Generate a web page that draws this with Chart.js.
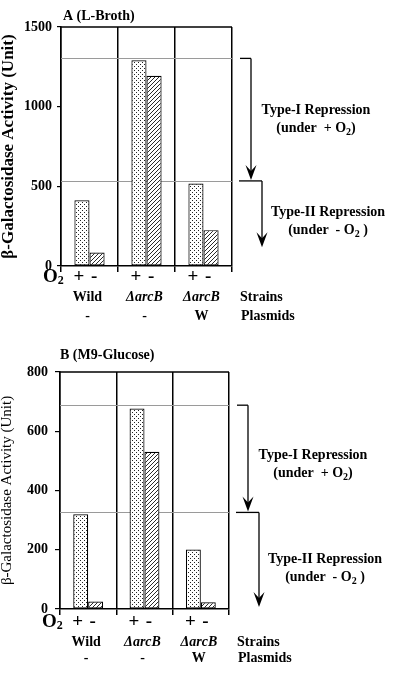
<!DOCTYPE html>
<html><head><meta charset="utf-8">
<script src="https://cdn.jsdelivr.net/npm/chart.js@4.4.1/dist/chart.umd.min.js"></script>
<style>
html,body{margin:0;padding:0;background:#fff;}
#wrap{position:relative;width:400px;height:680px;overflow:hidden;}
canvas{position:absolute;left:0;}
</style></head><body>
<div id="wrap">
<canvas id="cA" width="400" height="340" style="top:0"></canvas>
<canvas id="cB" width="400" height="340" style="top:340px"></canvas>
</div>
<script>
// ---- data ----
const strains = ['Wild', 'ΔarcB', 'ΔarcB'];
const plasmids = ['-', '-', 'W'];
const oxygenMarks = ['+', '-'];
const plusO2_A = [413, 1291, 518];
const minusO2_A = [85, 1194, 225];
const refLevels_A = [1303, 534];
const arrowEnd_A = 117;
const yTicks_A = [0, 500, 1000, 1500];
const plusO2_B = [320, 677, 201];
const minusO2_B = [25, 531, 23];
const refLevels_B = [688, 326];
const arrowEnd_B = 7;
const yTicks_B = [0, 200, 400, 600, 800];

const SERIF = '"Liberation Serif", "Times New Roman", serif';

function dotPattern() {
  const c = document.createElement('canvas'); c.width = 4; c.height = 4;
  const x = c.getContext('2d');
  x.fillStyle = '#fff'; x.fillRect(0, 0, 4, 4);
  x.fillStyle = '#222'; x.fillRect(0, 0, 1, 1); x.fillRect(2, 2, 1, 1);
  return x.createPattern(c, 'repeat');
}
function hatchPattern() {
  const s = 4;
  const c = document.createElement('canvas'); c.width = s; c.height = s;
  const x = c.getContext('2d');
  x.fillStyle = '#fff'; x.fillRect(0, 0, s, s);
  x.strokeStyle = '#111'; x.lineWidth = 0.9;
  [-s, 0, s].forEach(k => { x.beginPath(); x.moveTo(k, s); x.lineTo(k + s, 0); x.stroke(); });
  return x.createPattern(c, 'repeat');
}

function rich(ctx, parts, x, y, align) {
  // parts: [text, size, dy, weight]
  let w = 0;
  parts.forEach(p => { ctx.font = (p[3] || 'bold') + ' ' + p[1] + 'px ' + SERIF; w += ctx.measureText(p[0]).width; });
  let cx = align === 'center' ? x - w / 2 : (align === 'right' ? x - w : x);
  ctx.textAlign = 'left'; ctx.textBaseline = 'middle';
  parts.forEach(p => { ctx.font = (p[3] || 'bold') + ' ' + p[1] + 'px ' + SERIF; ctx.fillText(p[0], cx, y + (p[2] || 0)); cx += ctx.measureText(p[0]).width; });
}

function arrowDown(ctx, x, yFrom, yTip) {
  ctx.beginPath(); ctx.moveTo(x, yFrom); ctx.lineTo(x, yTip - 8); ctx.stroke();
  ctx.beginPath();
  ctx.moveTo(x, yTip); ctx.lineTo(x - 5.5, yTip - 15); ctx.lineTo(x, yTip - 9); ctx.lineTo(x + 5.5, yTip - 15);
  ctx.closePath(); ctx.fill();
}

const panelPlugin = {
  id: 'panel',
  beforeDatasetsDraw(chart, args, o) {
    const { ctx, chartArea: a, scales: { y } } = chart;
    ctx.save(); ctx.strokeStyle = '#9a9a9a'; ctx.lineWidth = 1;
    o.refs.forEach(v => {
      const py = Math.round(y.getPixelForValue(v)) + 0.5;
      ctx.beginPath(); ctx.moveTo(a.left, py); ctx.lineTo(a.right, py); ctx.stroke();
    });
    ctx.restore();
  },
  afterDraw(chart, args, o) {
    const { ctx, chartArea: a, scales: { x, y } } = chart;
    ctx.save();
    ctx.strokeStyle = '#000'; ctx.fillStyle = '#000';
    // top frame
    ctx.lineWidth = 1.5;
    ctx.beginPath(); ctx.moveTo(a.left, a.top); ctx.lineTo(a.right, a.top); ctx.stroke();
    // panel title
    ctx.font = 'bold 14px ' + SERIF; ctx.textAlign = 'left'; ctx.textBaseline = 'middle';
    ctx.fillText(o.title, a.left + o.titleDx, a.top - o.titleDy);
    // brackets + arrows
    const y1 = y.getPixelForValue(o.refs[0]);
    const y2 = y.getPixelForValue(o.refs[1]);
    const y3 = y.getPixelForValue(o.arrowEnd);
    ctx.lineWidth = 1.3;
    ctx.beginPath(); ctx.moveTo(a.right + 8, y1); ctx.lineTo(a.right + 19, y1); ctx.stroke();
    arrowDown(ctx, a.right + 19, y1, y2 - 1);
    ctx.beginPath(); ctx.moveTo(a.right + 7, y2); ctx.lineTo(a.right + 30, y2); ctx.stroke();
    arrowDown(ctx, a.right + 30, y2, y3);
    // texts
    const m1 = (y1 + y2) / 2 + o.t1Shift;
    rich(ctx, [['Type-I Repression', 14]], a.right + 84, m1 - 9, 'center');
    rich(ctx, [['(under  + O', 14], ['2', 10, 4], [')', 14]], a.right + 84, m1 + 9, 'center');
    const m2 = (y2 + y3) / 2 + o.t2Shift;
    rich(ctx, [['Type-II Repression', 14]], a.right + 96, m2 - 9, 'center');
    rich(ctx, [['(under  - O', 14], ['2', 10, 4], [' )', 14]], a.right + 96, m2 + 9, 'center');
    // bottom labels
    const r1 = a.bottom + o.row1, r2 = a.bottom + o.row2, r3 = a.bottom + o.row3;
    rich(ctx, [['O', 19], ['2', 12, 4]], a.left - 18, r1, 'left');
    for (let j = 0; j < strains.length; j++) {
      [0, 1].forEach(d => {
        const bx = chart.getDatasetMeta(d).data[j].x;
        rich(ctx, [[oxygenMarks[d], 19, 0, 'bold']], bx - 3, r1, 'center');
      });
      const cx = x.getPixelForValue(j) - 2;
      const italic = strains[j].startsWith('Δ');
      rich(ctx, [[strains[j], 14, 0, italic ? 'italic bold' : 'bold']], cx, r2, 'center');
      rich(ctx, [[plasmids[j], 14]], cx, r3, 'center');
    }
    rich(ctx, [['Strains', 14]], a.right + 8, r2, 'left');
    rich(ctx, [['Plasmids', 14]], a.right + 9, r3, 'left');
    ctx.restore();
  }
};

function makeChart(id, c) {
  return new Chart(document.getElementById(id), {
    type: 'bar',
    data: {
      labels: strains,
      datasets: [
        { label: '+O2', data: c.plus, backgroundColor: dotPattern(), borderColor: '#000', borderWidth: 1.2, borderSkipped: false },
        { label: '-O2', data: c.minus, backgroundColor: hatchPattern(), borderColor: '#000', borderWidth: 1.2, borderSkipped: false }
      ]
    },
    options: {
      responsive: false, animation: false, devicePixelRatio: 1,
      layout: { padding: { top: c.top, right: 400 - c.right, left: 0, bottom: 0 } },
      datasets: { bar: { categoryPercentage: 0.53, barPercentage: 1 } },
      plugins: {
        legend: { display: false }, tooltip: { enabled: false },
        panel: c.panel
      },
      scales: {
        x: {
          grid: { color: '#000', lineWidth: 1.5, offset: true, drawTicks: true, tickLength: 6 },
          border: { color: '#000', width: 1.5 },
          ticks: { display: false },
          afterFit: s => { s.height = 340 - c.bottom; }
        },
        y: {
          min: 0, max: c.ticks[c.ticks.length - 1],
          afterBuildTicks: s => { s.ticks = c.ticks.map(v => ({ value: v })); },
          grid: { drawOnChartArea: false, color: '#000', tickLength: c.tickLen, lineWidth: 1.2 },
          border: { color: '#000', width: 1.5 },
          ticks: { color: '#000', padding: c.tickPad, font: { family: SERIF, size: 14, weight: 'bold' },
                   callback: v => String(v) },
          title: { display: true, text: 'β-Galactosidase Activity (Unit)', color: '#000',
                   padding: { top: 0, bottom: 0 }, font: c.titleFont },
          afterFit: s => { s.width = c.left; }
        }
      }
    },
    plugins: [panelPlugin]
  });
}

makeChart('cA', {
  plus: plusO2_A, minus: minusO2_A, ticks: yTicks_A,
  top: 27, bottom: 266, left: 61, right: 232, tickLen: 4, tickPad: 5,
  titleFont: { family: SERIF, size: 17, weight: 'bold', lineHeight: 1.0 },
  panel: { title: 'A (L-Broth)', titleDx: 2, titleDy: 11, refs: refLevels_A, arrowEnd: arrowEnd_A,
           t1Shift: 0, t2Shift: 7, row1: 11, row2: 31, row3: 50 }
});
makeChart('cB', {
  plus: plusO2_B, minus: minusO2_B, ticks: yTicks_B,
  top: 32, bottom: 269, left: 60, right: 229, tickLen: 5, tickPad: 7,
  titleFont: { family: SERIF, size: 15, weight: 'normal', lineHeight: 1.0 },
  panel: { title: 'B (M9-Glucose)', titleDx: 0, titleDy: 17, refs: refLevels_B, arrowEnd: arrowEnd_B,
           t1Shift: 6, t2Shift: 9, row1: 13, row2: 33, row3: 49 }
});
</script>
</body></html>
